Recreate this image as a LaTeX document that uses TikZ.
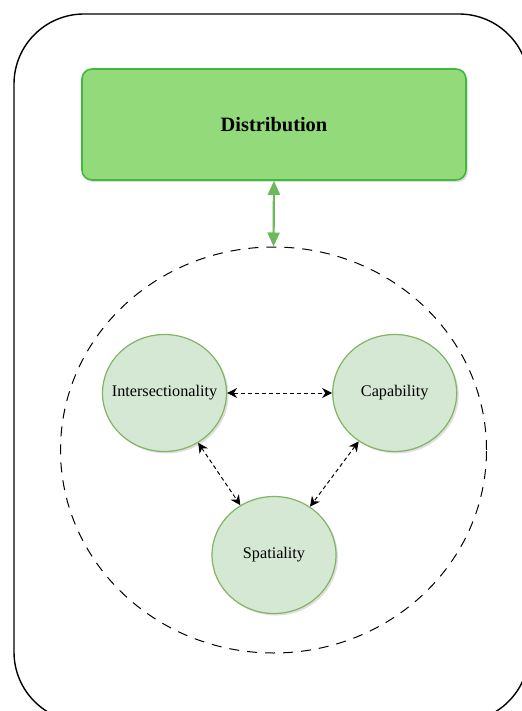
\documentclass[tikz,border=0pt]{standalone}
\usepackage{fontspec}
\setmainfont{Liberation Serif}
\usepackage{tikz}
\usetikzlibrary{arrows, arrows.meta, positioning, shapes.geometric, shadows}
\definecolor{distfill}{HTML}{92DA7A}
\definecolor{distline}{HTML}{3FBA3F}
\definecolor{lensfill}{HTML}{D5E8D4}
\definecolor{lensline}{HTML}{82B366}
\definecolor{linkgreen}{HTML}{6CB85A}
\newcommand{\lenstext}[1]{\makebox[0pt]{#1}} % keeps the lens size fixed
\tikzset{
node distance=52.5pt, % gap between the two upper lenses
distbox/.style={draw=distline, fill=distfill, line width=0.8pt, rounded corners=5pt,
  minimum width=192pt, minimum height=55.5pt, font=\fontsize{10.2}{12}\selectfont\bfseries,
  drop shadow={shadow xshift=1pt, shadow yshift=-1pt, fill=black!25}},
lens/.style={ellipse, draw=lensline, fill=lensfill, line width=0.6pt, inner sep=0pt,
  minimum width=62pt, minimum height=58.5pt, font=\fontsize{8.1}{10}\selectfont,
  drop shadow={shadow xshift=1pt, shadow yshift=-1pt, fill=black!25}},
ring/.style={ellipse, draw, dashed, dash pattern=on 5pt off 4pt, line width=0.5pt,
  minimum width=213pt, minimum height=203pt},
link/.style={{Stealth[length=5pt,width=5pt]}-{Stealth[length=5pt,width=5pt]},
  dash pattern=on 2pt off 1.5pt, line width=0.5pt},
}
\begin{document}
\begin{tikzpicture}[x=0.5pt, y=-0.5pt]
  \clip (0,0) rectangle (522,711); % frame is cut at right and bottom
  \draw[line width=0.7pt, rounded corners=35pt] (14,14) rectangle (529,722);

  \node[distbox] (dist) at (274,124.5) {Distribution};
  \node[ring] (ring) at (273.5,450) {};

  \node[lens] (inter) at (164.5,393) {\lenstext{Intersectionality}};
  \node[lens, right=of inter] (capa) {\lenstext{Capability}};
  \node[lens] (spat) at (274,555) {\lenstext{Spatiality}};

  \draw[linkgreen, line width=1.1pt, {Triangle[width=6pt,length=7pt]}-{Triangle[width=6pt,length=7pt]}]
    (dist.south) -- (ring.north);

  \path
  (inter) edge[link] (capa)
  (inter) edge[link] (spat)
  (capa) edge[link] (spat);
\end{tikzpicture}
\end{document}
